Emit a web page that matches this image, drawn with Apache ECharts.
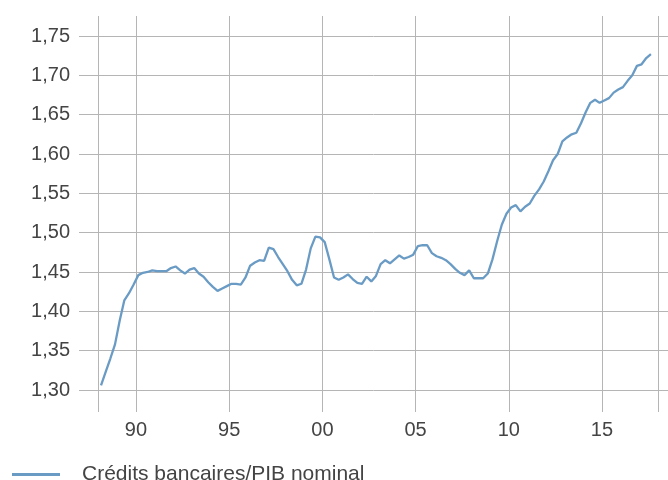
<!DOCTYPE html>
<html>
<head>
<meta charset="utf-8">
<script src="https://cdn.jsdelivr.net/npm/echarts@6/dist/echarts.min.js"></script>
<style>
  html, body { margin: 0; padding: 0; background: #fff; }
  #chart { width: 668px; height: 480px; }
</style>
</head>
<body>
<div id="chart"></div>
<script>
// quarterly ratio, first point = Q1 1988
const firstQuarter = 1988.125
const values = [
  1.306, 1.323, 1.340, 1.358, 1.388, 1.414, 1.423, 1.434,
  1.446, 1.449, 1.450, 1.452, 1.451, 1.451, 1.451, 1.455,
  1.457, 1.452, 1.448, 1.453, 1.455, 1.448, 1.444, 1.437,
  1.431, 1.426, 1.429, 1.432, 1.435, 1.435, 1.434, 1.443,
  1.458, 1.462, 1.465, 1.464, 1.481, 1.479, 1.469, 1.460,
  1.451, 1.440, 1.433, 1.435, 1.453, 1.480, 1.495, 1.494,
  1.488, 1.466, 1.443, 1.440, 1.443, 1.447, 1.441, 1.436,
  1.435, 1.444, 1.438, 1.445, 1.460, 1.465, 1.461, 1.466,
  1.471, 1.467, 1.469, 1.472, 1.483, 1.484, 1.484, 1.474,
  1.470, 1.468, 1.465, 1.460, 1.454, 1.449, 1.446, 1.452,
  1.442, 1.442, 1.442, 1.448, 1.466, 1.489, 1.510, 1.524,
  1.532, 1.535, 1.527, 1.533, 1.537, 1.547, 1.555, 1.565,
  1.578, 1.592, 1.600, 1.616, 1.621, 1.625, 1.627, 1.639,
  1.653, 1.665, 1.669, 1.665, 1.668, 1.671, 1.678, 1.682,
  1.685, 1.693, 1.700, 1.712, 1.714, 1.722, 1.727
]
const seriesName = 'Crédits bancaires/PIB nominal'
const yTicks = [1.30, 1.35, 1.40, 1.45, 1.50, 1.55, 1.60, 1.65, 1.70, 1.75]
const xLabelYears = [1990, 1995, 2000, 2005, 2010, 2015]
const xStart = 1988
const xEnd = 2018

const gridColor = '#b5b5b5'
const textColor = '#444'
const fontFamily = '"Liberation Sans", Arial, sans-serif'

const chart = echarts.init(document.getElementById('chart'), null, { renderer: 'canvas' })

const points = values.map((v, i) => [firstQuarter + i * 0.25, v])

// one colour per yearly tick: only the edges and the labelled years get a line
const xLineColors = []
for (let y = xStart; y <= xEnd; y++) {
  const visible = y === xStart || y === xEnd || xLabelYears.indexOf(y) >= 0
  xLineColors.push(visible ? gridColor : 'rgba(0,0,0,0)')
}

const option = {
  animation: false,
  backgroundColor: '#fff',
  grid: [
    // horizontal lines + y labels
    { left: 79, right: 0, top: 36, bottom: 90 },
    // vertical lines, x labels, data
    { left: 98.7, right: 10.1, top: 16, bottom: 68 }
  ],
  legend: {
    left: 7,
    top: 459,
    itemWidth: 48,
    itemHeight: 3,
    icon: 'rect',
    data: [seriesName],
    textStyle: {
      fontFamily: fontFamily,
      fontSize: 21,
      color: textColor,
      padding: [0, 0, 0, 17]
    }
  },
  xAxis: [
    { gridIndex: 0, type: 'value', min: 0, max: 1, show: false },
    {
      gridIndex: 1,
      type: 'value',
      min: xStart,
      max: xEnd,
      interval: 1,
      axisLine: { show: false },
      axisTick: { show: false },
      axisLabel: {
        interval: 0,
        margin: 8,
        fontFamily: fontFamily,
        fontSize: 20,
        color: textColor,
        formatter: (v) => xLabelYears.indexOf(v) >= 0 ? String(v % 100).padStart(2, '0') : ''
      },
      splitLine: { show: true, lineStyle: { color: xLineColors, width: 1 } }
    }
  ],
  yAxis: [
    {
      gridIndex: 0,
      type: 'value',
      min: yTicks[0],
      max: yTicks[yTicks.length - 1],
      interval: 0.05,
      axisLine: { show: false },
      axisTick: { show: false },
      axisLabel: {
        margin: 9,
        fontFamily: fontFamily,
        fontSize: 20,
        color: textColor,
        formatter: (v) => v.toFixed(2).replace('.', ',')
      },
      splitLine: { show: true, lineStyle: { color: gridColor, width: 1 } }
    },
    // hidden, same scale as axis 0 but stretched to the taller grid
    { gridIndex: 1, type: 'value', min: 1.272, max: 1.7754, show: false }
  ],
  series: [{
    name: seriesName,
    type: 'line',
    xAxisIndex: 1,
    yAxisIndex: 1,
    data: points,
    showSymbol: false,
    symbol: 'none',
    itemStyle: { color: '#6a9bc4' },
    lineStyle: { color: '#6a9bc4', width: 2.3 }
  }]
}

chart.setOption(option)
</script>
</body>
</html>
